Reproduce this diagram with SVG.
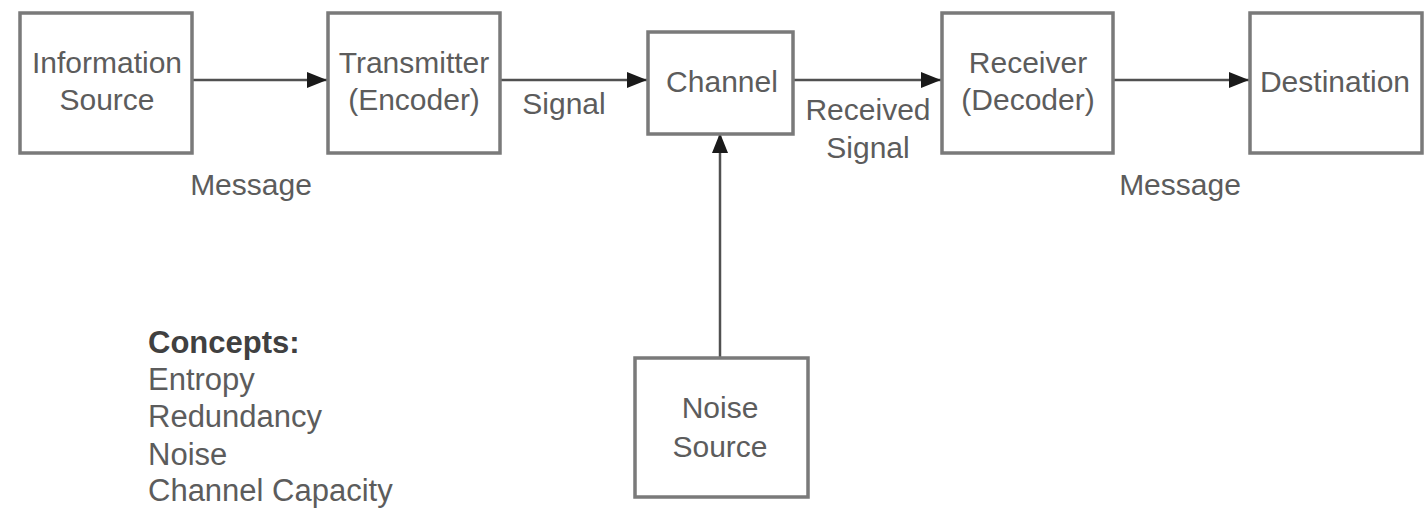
<svg xmlns="http://www.w3.org/2000/svg" width="1427" height="508" viewBox="0 0 1427 508">
<style>
.box{fill:#fff;stroke:#7a7a7a;stroke-width:3.5}
.t{font-family:"Liberation Sans",Arial,sans-serif;font-size:30px;fill:#5c5c5c;text-anchor:middle}
.l{font-family:"Liberation Sans",Arial,sans-serif;font-size:31px;fill:#5c5c5c}
.b{font-weight:bold;fill:#404040}
.c{fill:none;stroke:#505050;stroke-width:2.5}
</style>
<defs>
<marker id="ah" markerWidth="20" markerHeight="16" refX="20" refY="8" orient="auto" markerUnits="userSpaceOnUse">
<path d="M0,0 L20,8 L0,16 Z" fill="#1a1a1a"/>
</marker>
</defs>
<rect width="1427" height="508" fill="#fff"/>
<g id="connectors">
<line class="c" x1="192" y1="80" x2="327" y2="80" marker-end="url(#ah)"/>
<line class="c" x1="500" y1="80" x2="647" y2="80" marker-end="url(#ah)"/>
<line class="c" x1="793" y1="80" x2="941" y2="80" marker-end="url(#ah)"/>
<line class="c" x1="1113" y1="80" x2="1249" y2="80" marker-end="url(#ah)"/>
<line class="c" x1="720" y1="358" x2="720" y2="133" marker-end="url(#ah)"/>
<text class="t" x="251" y="195">Message</text>
<text class="t" x="564" y="114">Signal</text>
<text class="t" x="868" y="120">Received</text>
<text class="t" x="868" y="158">Signal</text>
<text class="t" x="1180" y="195">Message</text>
</g>
<g id="info-source">
<rect class="box" x="20" y="13" width="172" height="140"/>
<text class="t" x="107" y="73">Information</text>
<text class="t" x="107" y="110">Source</text>
</g>
<g id="transmitter">
<rect class="box" x="328" y="13" width="172" height="140"/>
<text class="t" x="414" y="73">Transmitter</text>
<text class="t" x="414" y="110">(Encoder)</text>
</g>
<g id="channel">
<rect class="box" x="648" y="32" width="145" height="102"/>
<text class="t" x="722" y="92">Channel</text>
</g>
<g id="receiver">
<rect class="box" x="942" y="13" width="171" height="140"/>
<text class="t" x="1028" y="73">Receiver</text>
<text class="t" x="1028" y="110">(Decoder)</text>
</g>
<g id="destination">
<rect class="box" x="1250" y="13" width="172" height="140"/>
<text class="t" x="1335" y="92">Destination</text>
</g>
<g id="noise-source">
<rect class="box" x="635" y="358" width="173" height="139"/>
<text class="t" x="720" y="418">Noise</text>
<text class="t" x="720" y="457">Source</text>
</g>
<g id="concepts">
<text class="l b" x="148" y="353">Concepts:</text>
<text class="l" x="148" y="390">Entropy</text>
<text class="l" x="148" y="427">Redundancy</text>
<text class="l" x="148" y="465">Noise</text>
<text class="l" x="148" y="501">Channel Capacity</text>
</g>
</svg>
